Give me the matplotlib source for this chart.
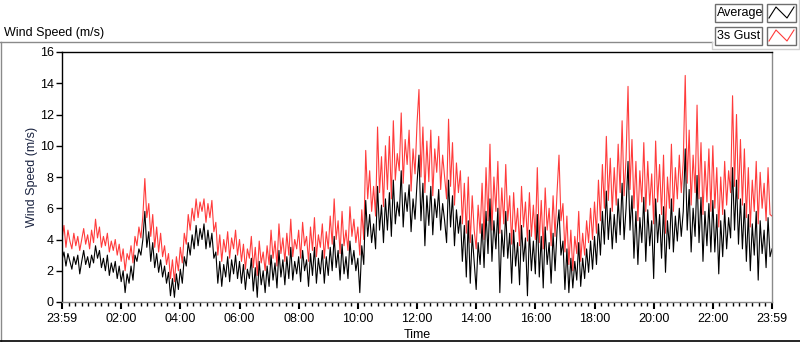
import numpy as np
import matplotlib
matplotlib.use("Agg")
import matplotlib.pyplot as plt
from matplotlib.lines import Line2D
from matplotlib.patches import Rectangle
from matplotlib.ticker import MultipleLocator

plt.rcParams['font.family'] = ['Liberation Sans', 'DejaVu Sans']
plt.rcParams['font.size'] = 9

# 4 minute samples from 23:59 to 23:59 (hours since start)
hours = np.arange(361) / 15

# 3s gust, m/s (15 values per hour)
gust = [
    4.0, 4.9, 3.5, 4.6, 3.9, 3.4, 4.4, 3.6, 4.2, 3.3, 4.0, 4.7, 3.7, 4.3, 3.4,
    4.6, 3.8, 5.3, 4.1, 4.8, 3.5, 4.2, 3.6, 4.4, 3.2, 3.9, 3.3, 4.0, 3.0, 3.7,
    2.6, 3.4, 2.0, 3.1, 2.7, 3.6, 2.5, 4.2, 3.6, 4.8, 4.1, 5.5, 7.9, 5.4, 6.3,
    4.2, 5.6, 3.5, 4.8, 3.2, 4.4, 2.9, 3.6, 2.4, 3.1, 1.5, 2.7, 1.3, 2.9, 2.0,
    3.5, 2.5, 4.4, 3.7, 5.6, 4.6, 6.0, 5.2, 6.6, 5.4, 6.4, 5.8, 6.6, 5.1, 6.3,
    5.4, 6.5, 4.5, 5.1, 3.0, 4.3, 2.6, 4.0, 3.2, 4.5, 2.8, 4.1, 3.4, 4.6, 3.0,
    4.0, 2.6, 3.7, 2.1, 3.4, 2.8, 4.2, 2.2, 3.5, 1.7, 3.9, 2.5, 3.2, 2.0, 3.6,
    2.4, 4.6, 2.8, 3.9, 2.3, 5.0, 3.1, 4.1, 2.6, 4.4, 3.0, 5.3, 2.9, 4.0, 3.4,
    4.6, 2.8, 5.1, 3.6, 4.2, 2.6, 4.8, 3.3, 5.4, 2.9, 4.3, 3.5, 5.0, 2.8, 4.5,
    3.4, 5.5, 3.7, 6.6, 4.0, 5.2, 3.1, 5.8, 3.6, 4.6, 3.3, 6.1, 4.2, 5.3, 3.8,
    4.8, 3.0, 5.9, 4.0, 9.7, 6.6, 8.4, 5.8, 7.4, 5.5, 11.2, 7.0, 9.3, 6.1, 10.0,
    7.2, 10.6, 6.6, 11.6, 7.8, 9.5, 8.4, 12.1, 7.6, 10.4, 8.8, 11.0, 7.1, 9.8, 8.2,
    11.4, 13.6, 8.0, 11.2, 7.0, 10.3, 7.7, 11.0, 6.8, 9.8, 8.3, 10.6, 7.2, 9.4, 8.0,
    6.6, 11.7, 7.4, 10.2, 6.2, 8.9, 7.0, 8.4, 5.0, 7.6, 4.4, 8.0, 3.8, 6.8, 4.6,
    3.4, 6.2, 4.4, 7.6, 4.0, 8.6, 5.2, 10.1, 4.6, 8.0, 5.8, 9.0, 4.4, 7.3, 5.0,
    8.8, 5.2, 6.8, 3.7, 7.0, 4.5, 6.0, 3.6, 7.4, 4.8, 6.4, 3.9, 7.0, 4.2, 6.2,
    4.0, 8.6, 3.8, 6.5, 3.4, 7.3, 4.6, 6.0, 3.6, 6.8, 4.2, 7.0, 9.4, 5.2, 6.3,
    3.2, 5.5, 2.4, 4.6, 2.0, 4.2, 3.1, 5.8, 2.6, 4.4, 3.0, 5.2, 3.8, 6.0, 4.0,
    6.4, 4.4, 7.8, 5.2, 8.8, 6.0, 10.6, 6.5, 9.2, 5.8, 8.6, 6.2, 10.1, 7.0, 11.6,
    6.8, 9.2, 13.8, 7.2, 10.4, 6.0, 9.0, 5.2, 8.4, 6.4, 10.2, 5.8, 9.0, 6.2, 8.2,
    5.0, 10.3, 6.4, 8.8, 5.6, 9.4, 4.4, 8.0, 6.0, 10.1, 5.8, 8.6, 6.6, 9.4, 7.0,
    9.0, 14.5, 7.6, 11.0, 6.2, 9.4, 7.0, 12.6, 6.6, 10.2, 5.6, 9.0, 6.4, 9.8, 5.8,
    10.0, 6.0, 8.6, 4.8, 8.0, 5.6, 9.0, 6.2, 8.4, 7.0, 13.2, 7.4, 12.0, 6.6, 10.4,
    6.2, 9.8, 5.4, 8.6, 4.8, 7.8, 5.8, 9.0, 5.0, 8.3, 6.0, 7.6, 5.2, 8.6, 5.6,
    5.5,
]

# average wind speed, m/s
average = [
    2.7, 3.2, 2.3, 3.1, 2.6, 2.1, 2.9, 2.4, 3.0, 1.8, 2.6, 3.3, 2.4, 2.9, 2.2,
    3.0, 2.5, 3.6, 2.8, 3.3, 2.2, 2.8, 2.0, 3.0, 1.7, 2.5, 1.9, 2.6, 1.5, 2.3,
    1.3, 2.0, 0.6, 1.8, 1.2, 2.3, 1.4, 3.0, 2.6, 3.4, 3.0, 4.0, 5.8, 3.5, 4.5,
    2.6, 3.8, 2.2, 3.1, 1.9, 2.7, 1.6, 2.3, 1.2, 1.9, 0.4, 1.5, 0.3, 1.8, 0.8,
    2.1, 1.2, 2.9, 2.3, 3.8, 3.0, 4.3, 3.4, 4.9, 3.6, 4.7, 4.0, 5.0, 3.4, 4.6,
    3.5, 4.4, 2.8, 3.2, 1.2, 2.6, 1.0, 2.4, 1.6, 2.9, 1.3, 2.7, 1.8, 3.0, 1.5,
    2.6, 1.2, 2.4, 0.8, 2.1, 1.5, 2.8, 0.7, 2.2, 0.3, 2.6, 1.1, 2.0, 0.6, 2.3,
    1.0, 3.0, 1.4, 2.5, 0.9, 3.3, 1.6, 2.7, 1.1, 2.9, 1.5, 3.5, 1.4, 2.6, 1.8,
    2.9, 1.3, 3.3, 2.0, 2.7, 1.0, 3.1, 1.7, 3.5, 1.2, 2.8, 1.8, 3.3, 1.2, 2.9,
    1.7, 3.5, 2.0, 4.2, 2.2, 3.3, 1.4, 3.7, 1.8, 2.9, 1.5, 3.9, 2.4, 3.3, 2.0,
    2.8, 0.6, 3.6, 2.4, 6.5, 4.2, 5.6, 3.8, 5.0, 3.4, 7.4, 4.6, 6.2, 3.8, 6.6,
    4.6, 7.0, 4.2, 7.8, 5.0, 6.4, 5.5, 8.4, 4.8, 7.0, 5.8, 7.5, 4.5, 6.6, 5.3,
    7.6, 9.4, 5.2, 7.6, 3.6, 6.8, 4.9, 7.4, 4.3, 6.6, 5.4, 7.2, 4.6, 6.3, 5.2,
    3.8, 7.8, 4.8, 6.8, 3.6, 5.9, 4.4, 5.5, 2.6, 4.9, 1.6, 5.2, 1.2, 4.3, 2.5,
    0.8, 3.8, 2.4, 5.0, 2.2, 5.8, 3.1, 6.6, 2.6, 5.2, 3.4, 6.0, 0.6, 4.6, 2.9,
    5.8, 2.8, 4.4, 1.2, 4.6, 2.3, 3.8, 1.1, 4.9, 2.6, 4.1, 0.4, 4.6, 2.0, 3.9,
    1.8, 5.6, 1.6, 4.2, 0.9, 4.8, 2.4, 3.8, 1.2, 4.4, 2.0, 4.6, 5.9, 3.0, 3.9,
    0.8, 3.4, 0.6, 2.8, 0.9, 2.6, 1.4, 3.8, 1.0, 2.8, 1.5, 3.4, 1.9, 3.9, 2.1,
    4.2, 2.4, 5.0, 3.0, 5.8, 3.7, 7.1, 4.0, 6.0, 3.4, 5.6, 3.8, 6.6, 4.3, 7.6,
    4.0, 6.0, 9.0, 4.6, 6.8, 2.8, 5.8, 2.4, 5.4, 3.8, 6.7, 2.6, 5.9, 3.6, 5.2,
    1.5, 6.6, 3.8, 5.6, 2.8, 6.1, 1.9, 5.2, 3.4, 6.6, 3.2, 5.5, 3.9, 6.0, 4.2,
    5.8, 9.8, 4.6, 7.2, 3.2, 6.0, 4.2, 8.1, 3.8, 6.7, 2.6, 5.8, 3.6, 6.3, 3.2,
    6.5, 3.2, 5.6, 1.8, 5.2, 2.9, 5.9, 3.4, 5.4, 4.1, 8.6, 4.6, 7.8, 3.7, 6.6,
    3.4, 6.3, 2.6, 5.6, 2.0, 5.0, 3.0, 5.8, 1.4, 5.2, 3.1, 4.6, 2.2, 5.4, 2.9,
    3.4,
]

x_ticks = [0, 2, 4, 6, 8, 10, 12, 14, 16, 18, 20, 22, 24]
x_labels = ["23:59", "02:00", "04:00", "06:00", "08:00", "10:00", "12:00",
            "14:00", "16:00", "18:00", "20:00", "22:00", "23:59"]
y_ticks = [0, 2, 4, 6, 8, 10, 12, 14, 16]

W, H = 800, 342


# pixel position -> figure fraction
def fx(x):
    return x / W


def fy(y):
    return 1 - y / H


fig = plt.figure(figsize=(W / 100, H / 100), dpi=100)
ax = fig.add_axes([fx(62), fy(302), 710 / W, 250 / H])

ax.plot(hours, gust, color="#ff3b3b", lw=0.8)
ax.plot(hours, average, color="black", lw=0.8)

ax.set_xlim(0, 24)
ax.set_ylim(0, 16)
ax.set_xticks(x_ticks)
ax.set_xticklabels(x_labels)
ax.set_yticks(y_ticks)
ax.xaxis.set_minor_locator(MultipleLocator(2 / 9))
ax.tick_params(axis="x", which="major", length=5, width=1.5, pad=3)
ax.tick_params(axis="x", which="minor", length=3, width=1)
ax.tick_params(axis="y", which="major", length=4, width=1, pad=2)

ax.spines["top"].set_color("black")
ax.spines["left"].set_color("black")
ax.spines["right"].set_color("#8a8a8a")
ax.spines["bottom"].set_color("#8a8a8a")
for s in ax.spines.values():
    s.set_linewidth(1)

ax.set_xlabel("Time")
ax.xaxis.set_label_coords(0.5, -27 / 250)
ax.set_ylabel("Wind Speed (m/s)", color="#1a2340")
ax.yaxis.set_label_coords(-24 / 710, 0.5)

# panel frame and title
fig.text(fx(4), fy(36), "Wind Speed (m/s)", fontsize=9, va="baseline")
fig.add_artist(Line2D([fx(0), fx(712)], [fy(42), fy(42)], color="#8a8a8a", lw=1))
fig.add_artist(Line2D([fx(0.5), fx(0.5)], [fy(42), fy(341)], color="#8a8a8a", lw=1))
fig.add_artist(Line2D([fx(0), fx(800)], [fy(341), fy(341)], color="black", lw=1.2))
fig.add_artist(Line2D([fx(712), fx(712), fx(799), fx(799)],
                      [fy(42), fy(49), fy(49), fy(0)], color="#d0d0d0", lw=1))

# legend boxes
legend_rows = [("Average", "black", 4), ("3s Gust", "#ff3b3b", 27)]
for name, col, top in legend_rows:
    fig.add_artist(Rectangle((fx(715), fy(top + 18)), 47 / W, 18 / H,
                             facecolor="white", edgecolor="#6e6e6e", lw=1))
    fig.text(fx(717), fy(top + 9), name, fontsize=9, va="center")
    fig.add_artist(Rectangle((fx(767), fy(top + 18)), 29 / W, 18 / H,
                             facecolor="white", edgecolor="#6e6e6e", lw=1))
    fig.add_artist(Line2D([fx(769), fx(776), fx(787), fx(794)],
                          [fy(top + 14), fy(top + 3), fy(top + 14), fy(top + 3)],
                          color=col, lw=0.8))

fig.savefig("out.png", dpi=100)
